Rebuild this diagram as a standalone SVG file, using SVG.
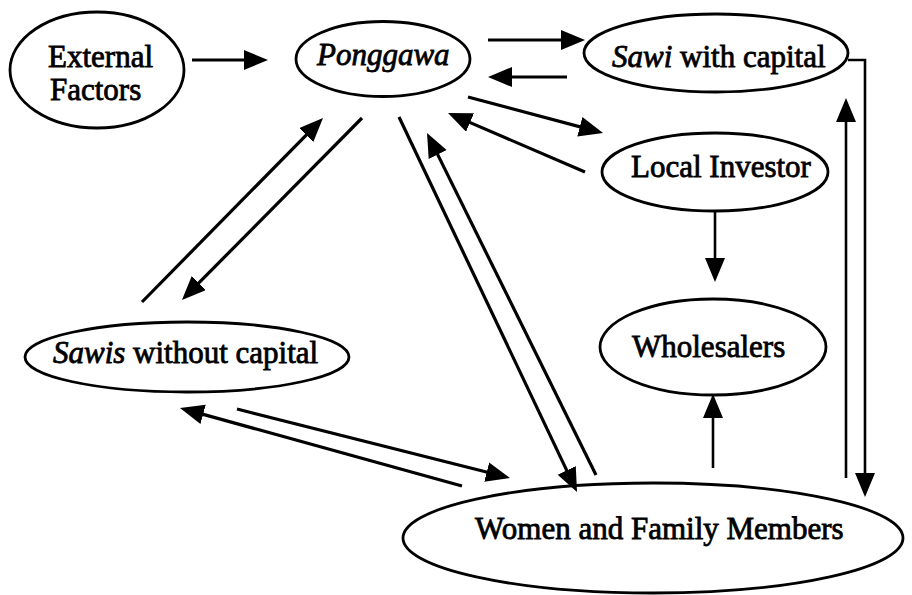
<svg xmlns="http://www.w3.org/2000/svg" width="912" height="595" viewBox="0 0 912 595">
<defs>
<style>
.node ellipse{fill:none;stroke:#000;stroke-width:2.8}
.node text{font-family:"Liberation Serif","Times New Roman",serif;font-size:31px;fill:#000;stroke:#000;stroke-width:0.8}
.it{font-style:italic}
.conn line,.conn path{stroke:#000;stroke-width:3.2;fill:none;marker-end:url(#ah)}
.conn .thin{stroke-width:2.6}
</style>
<marker id="ah" markerUnits="userSpaceOnUse" markerWidth="26" markerHeight="22" refX="13" refY="10" orient="auto">
<path d="M0,0 L24,10 L0,20 z" fill="#000"/>
</marker>
</defs>
<rect width="912" height="595" fill="#fff"/>
<g id="external-factors" class="node">
<ellipse cx="97" cy="70" rx="87" ry="58"/>
<text x="48" y="67">External</text>
<text x="50" y="100">Factors</text>
</g>
<g id="ponggawa" class="node">
<ellipse cx="383" cy="59" rx="87" ry="37.5"/>
<text x="317" y="65" class="it">Ponggawa</text>
</g>
<g id="sawi-with-capital" class="node">
<ellipse cx="716" cy="53" rx="132" ry="39"/>
<text x="612" y="67"><tspan class="it">Sawi</tspan> with capital</text>
</g>
<g id="local-investor" class="node">
<ellipse cx="715" cy="172" rx="113" ry="39"/>
<text x="631" y="177">Local Investor</text>
</g>
<g id="wholesalers" class="node">
<ellipse cx="713" cy="347" rx="113" ry="48"/>
<text x="632" y="357">Wholesalers</text>
</g>
<g id="sawis-without-capital" class="node">
<ellipse cx="187" cy="357" rx="162" ry="35"/>
<text x="53" y="363"><tspan class="it">Sawis</tspan> without capital</text>
</g>
<g id="women-family" class="node">
<ellipse cx="653" cy="538" rx="250" ry="55"/>
<text x="475" y="539">Women and Family Members</text>
</g>
<g id="connectors" class="conn">
<line x1="192" y1="60" x2="257" y2="60"/>
<line x1="488" y1="40" x2="574" y2="40"/>
<line x1="567" y1="77" x2="499" y2="77"/>
<line x1="468" y1="97" x2="592.4" y2="130.1"/>
<line x1="585" y1="172" x2="458.1" y2="117.4"/>
<path class="thin" d="M848,60 H865 V486"/>
<line class="thin" x1="846" y1="478" x2="846" y2="109"/>
<line class="thin" x1="715" y1="210" x2="715" y2="271"/>
<line class="thin" x1="713" y1="468" x2="713" y2="405"/>
<line x1="362" y1="118" x2="189.7" y2="292.2"/>
<line x1="142" y1="302" x2="315.3" y2="125.8"/>
<line x1="399" y1="117" x2="572.3" y2="482.1"/>
<line x1="596" y1="475" x2="431.9" y2="142.9"/>
<line x1="237" y1="409" x2="499.3" y2="475.3"/>
<line x1="462" y1="486" x2="190.6" y2="410.9"/>
</g>
</svg>
